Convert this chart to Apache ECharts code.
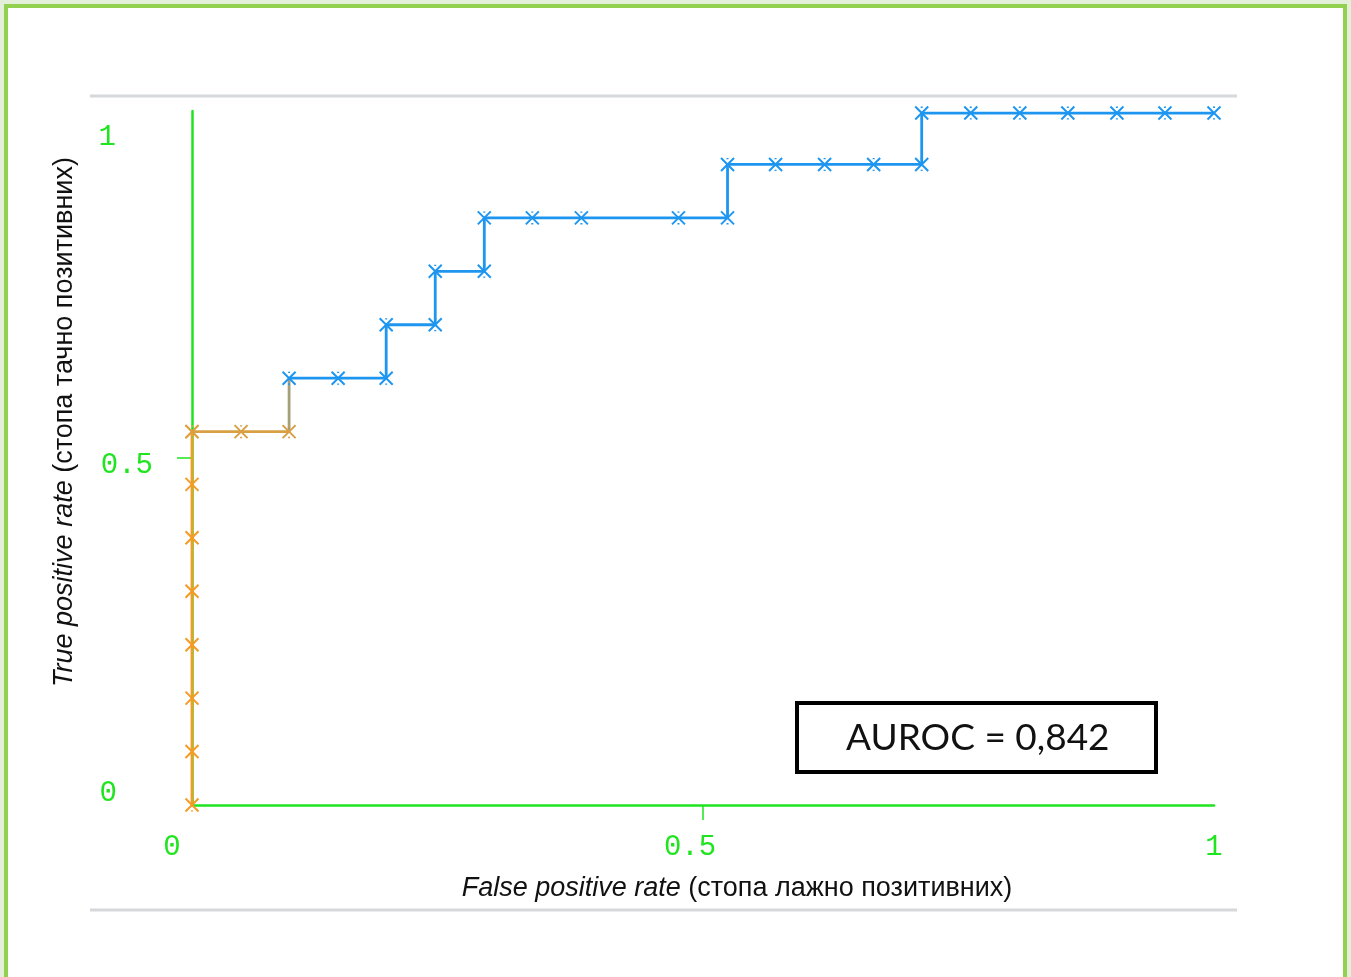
<!DOCTYPE html>
<html>
<head>
<meta charset="utf-8">
<script src="https://cdn.jsdelivr.net/npm/echarts@6/dist/echarts.min.js"></script>
<style>
  html, body { margin: 0; padding: 0; width: 1351px; height: 977px; overflow: hidden; background: #e3efd9; }
  #frame { position: absolute; left: 4px; top: 4px; width: 1335px; height: 990px; border: 4px solid #92d050; background: #ffffff; }
  #chart { position: absolute; left: 0; top: 0; width: 1351px; height: 977px; }
</style>
</head>
<body>
<div id="frame"></div>
<div id="chart"></div>
<script>
// ROC curve points (false positive rate, true positive rate), split by segment colour
const orangeFpr = [0, 0, 0, 0, 0, 0, 0, 0];
const orangeTpr = [0, 0.077, 0.154, 0.231, 0.308, 0.385, 0.462, 0.538];
const tanFpr = [0, 0.048, 0.095];
const tanTpr = [0.538, 0.538, 0.538];
const oliveFpr = [0.095, 0.095];
const oliveTpr = [0.538, 0.615];
const blueFpr = [0.095, 0.143, 0.190, 0.190, 0.238, 0.238, 0.286, 0.286, 0.333, 0.381, 0.476, 0.524,
                 0.524, 0.571, 0.619, 0.667, 0.714, 0.714, 0.762, 0.810, 0.857, 0.905, 0.952, 1.0];
const blueTpr = [0.615, 0.615, 0.615, 0.692, 0.692, 0.769, 0.769, 0.846, 0.846, 0.846, 0.846, 0.846,
                 0.923, 0.923, 0.923, 0.923, 0.923, 0.997, 0.997, 0.997, 0.997, 0.997, 0.997, 0.997];
const tickLabels = ['0', '0.5', '1'];
const xAxisTitleItalic = 'False positive rate';
const xAxisTitleRest = ' (стопа лажно позитивних)';
const yAxisTitleItalic = 'True positive rate';
const yAxisTitleRest = ' (стопа тачно позитивних)';
const aurocText = 'AUROC = 0,842';

const zip = (xs, ys) => xs.map((x, i) => [x, ys[i]]);
const crossSymbol = 'path://M0,0L10,10M10,0L0,10M5,0L5,1M5,9L5,10';

function seg(name, xs, ys, color, z, showSymbol) {
  return {
    name, type: 'line', data: zip(xs, ys), z,
    showSymbol: showSymbol !== false,
    symbol: crossSymbol, symbolSize: 13,
    itemStyle: { color: 'rgba(0,0,0,0)', borderColor: color, borderWidth: 2 },
    lineStyle: { color, width: 2.8 },
    animation: false, silent: true
  };
}

const green = '#1fe41f';
const chart = echarts.init(document.getElementById('chart'));
chart.setOption({
  backgroundColor: 'transparent',
  animation: false,
  grid: { left: 192, right: 137, top: 111, bottom: 172, containLabel: false },
  xAxis: {
    type: 'value', min: 0, max: 1, interval: 0.5,
    axisLine: { lineStyle: { color: green, width: 2.5 } },
    axisTick: { show: true, customValues: [0.5], length: 15, lineStyle: { color: green, width: 1.5 } },
    splitLine: { show: false },
    axisLabel: {
      margin: 28,
      fontFamily: 'Liberation Mono', fontSize: 29, color: green,
      formatter: v => v === 0 ? '{a|' + tickLabels[0] + '}' : (v === 0.5 ? '{b|' + tickLabels[1] + '}' : '{c|' + tickLabels[2] + '}'),
      rich: {
        a: { fontFamily: 'Liberation Mono', fontSize: 29, color: green, padding: [0, 40, 0, 0] },
        b: { fontFamily: 'Liberation Mono', fontSize: 29, color: green, padding: [0, 26, 0, 0] },
        c: { fontFamily: 'Liberation Mono', fontSize: 29, color: green, padding: [0, 0, 0, 0] }
      }
    },
    name: '{i|' + xAxisTitleItalic + '}' + xAxisTitleRest,
    nameLocation: 'middle', nameGap: 70,
    nameTextStyle: {
      fontFamily: 'Liberation Sans', fontSize: 27, color: '#111', padding: [0, 0, 0, 68],
      rich: { i: { fontFamily: 'Liberation Sans', fontSize: 27, fontStyle: 'italic', color: '#111' } }
    }
  },
  yAxis: {
    type: 'value', min: 0, max: 1, interval: 0.5,
    axisLine: { show: true, lineStyle: { color: green, width: 2.5 } },
    axisTick: { show: true, customValues: [0.5], length: 15, lineStyle: { color: green, width: 1.5 } },
    splitLine: { show: false },
    axisLabel: {
      margin: 39,
      fontFamily: 'Liberation Mono', fontSize: 29, color: green,
      formatter: v => v === 0 ? '{a|' + tickLabels[0] + '}' : (v === 0.5 ? '{b|' + tickLabels[1] + '}' : '{c|' + tickLabels[2] + '}'),
      rich: {
        a: { fontFamily: 'Liberation Mono', fontSize: 29, color: green, padding: [0, 36, 24, 0] },
        b: { fontFamily: 'Liberation Mono', fontSize: 29, color: green, padding: [14, 0, 0, 0] },
        c: { fontFamily: 'Liberation Mono', fontSize: 29, color: green, padding: [52, 37, 0, 0] }
      }
    },
    name: '{i|' + yAxisTitleItalic + '}' + yAxisTitleRest,
    nameLocation: 'middle', nameGap: 114, nameRotate: 90,
    nameTextStyle: {
      fontFamily: 'Liberation Sans', fontSize: 27, color: '#111', padding: [0, 0, 0, 72],
      rich: { i: { fontFamily: 'Liberation Sans', fontSize: 27, fontStyle: 'italic', color: '#111' } }
    }
  },
  series: [
    seg('orange', orangeFpr, orangeTpr, '#f59b25', 3),
    seg('tan', tanFpr, tanTpr, '#d8a043', 4),
    seg('olive', oliveFpr, oliveTpr, '#a39f78', 4, false),
    seg('blue', blueFpr, blueTpr, '#1e96f0', 5)
  ],
  graphic: [
    { type: 'line', shape: { x1: 90, y1: 96, x2: 1237, y2: 96 }, style: { stroke: '#d6d8dc', lineWidth: 3 }, silent: true },
    { type: 'line', shape: { x1: 90, y1: 910, x2: 1237, y2: 910 }, style: { stroke: '#d6d8dc', lineWidth: 3 }, silent: true },
    { type: 'rect', shape: { x: 797, y: 703, width: 359, height: 69 }, style: { fill: '#ffffff', stroke: '#000000', lineWidth: 4 }, z: 10 },
    { type: 'text', left: 976 - 130, top: 720, z: 11,
      style: { text: aurocText, fontFamily: 'Lato', fontSize: 37, fill: '#111', width: 260, align: 'center' } }
  ]
});
</script>
</body>
</html>
